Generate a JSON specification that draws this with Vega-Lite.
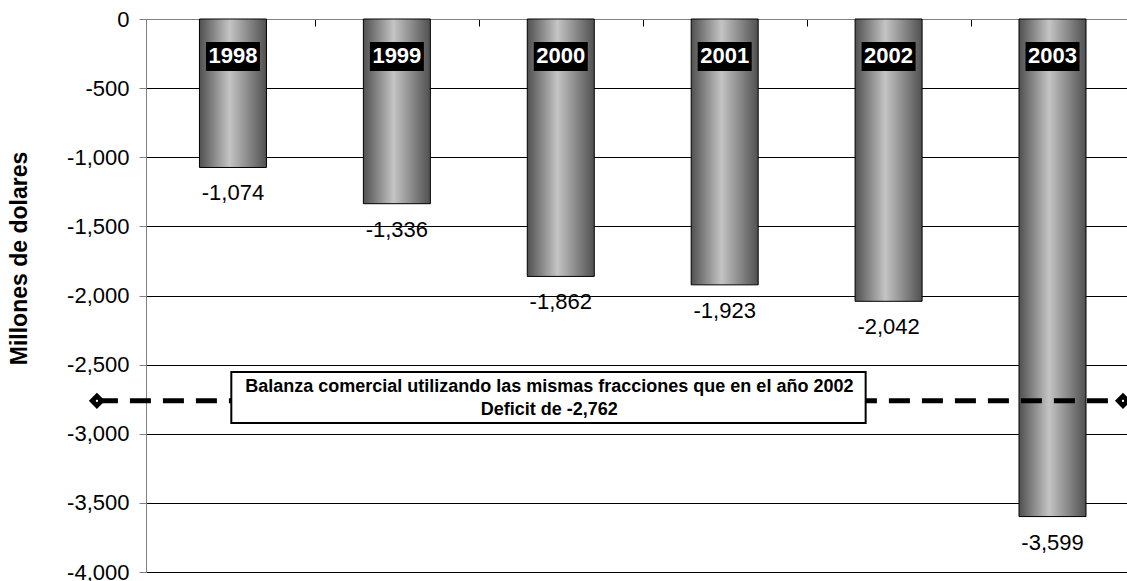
{
  "$schema": "https://vega.github.io/schema/vega-lite/v6.json",
  "width": 981,
  "height": 553,
  "autosize": {"type": "none"},
  "padding": {"left": 146, "top": 19, "right": 0, "bottom": 9},
  "background": "white",
  "config": {
    "font": "Liberation Sans",
    "view": {"stroke": null},
    "locale": {"number": {"decimal": ".", "thousands": ",", "grouping": [3], "currency": ["$", ""], "minus": "-"}}
  },
  "datasets": {
    "bars": [
      {"year": 1998, "value": -1074},
      {"year": 1999, "value": -1336},
      {"year": 2000, "value": -1862},
      {"year": 2001, "value": -1923},
      {"year": 2002, "value": -2042},
      {"year": 2003, "value": -3599}
    ],
    "ref": [
      {"year": 1997.17, "value": -2762},
      {"year": 2003.43, "value": -2762}
    ],
    "box": [
      {"year": 1997.99, "year2": 2001.86, "value": -2553, "value2": -2922}
    ],
    "boxtext": [
      {"year": 1999.93, "value": -2662, "label": "Balanza comercial utilizando las mismas fracciones que en el año 2002"},
      {"year": 1999.93, "value": -2828, "label": "Deficit de -2,762"}
    ]
  },
  "encoding": {
    "x": {
      "field": "year",
      "type": "quantitative",
      "scale": {"domain": [1997.5, 2003.424], "nice": false, "zero": false},
      "axis": {
        "orient": "top",
        "title": null,
        "values": [1998.5, 1999.5, 2000.5, 2001.5, 2002.5],
        "labels": false,
        "grid": false,
        "tickSize": -7,
        "tickColor": "#000000",
        "domainColor": "#808080",
        "domainWidth": 1
      }
    },
    "y": {
      "field": "value",
      "type": "quantitative",
      "scale": {"domain": [-4000, 0], "nice": false},
      "axis": {
        "title": "Millones de dolares",
        "titleFontSize": 23,
        "titleFontWeight": "bold",
        "titleColor": "#000000",
        "titlePadding": 35,
        "titleY": 239,
        "values": [0, -500, -1000, -1500, -2000, -2500, -3000, -3500, -4000],
        "format": ",.0f",
        "labelFontSize": 22,
        "labelColor": "#000000",
        "labelPadding": 10,
        "tickSize": 7,
        "tickColor": "#808080",
        "domainColor": "#808080",
        "gridColor": "#000000",
        "gridWidth": 1,
        "gridOpacity": 1
      }
    }
  },
  "layer": [
    {
      "data": {"name": "bars"},
      "mark": {
        "type": "bar",
        "size": 67,
        "stroke": "#000000",
        "strokeWidth": 1,
        "color": {
          "gradient": "linear",
          "x1": 0, "y1": 0, "x2": 1, "y2": 0,
          "stops": [
            {"offset": 0, "color": "#505050"},
            {"offset": 0.45, "color": "#c4c4c4"},
            {"offset": 1, "color": "#505050"}
          ]
        }
      }
    },
    {
      "data": {"name": "bars"},
      "mark": {"type": "bar", "size": 54, "color": "#000000"},
      "encoding": {
        "y": {"datum": -166},
        "y2": {"datum": -376}
      }
    },
    {
      "data": {"name": "bars"},
      "mark": {"type": "text", "color": "#ffffff", "fontSize": 22, "fontWeight": "bold", "baseline": "middle", "align": "center"},
      "encoding": {
        "y": {"datum": -271},
        "text": {"field": "year", "type": "nominal"}
      }
    },
    {
      "data": {"name": "bars"},
      "mark": {"type": "text", "color": "#000000", "fontSize": 22, "baseline": "middle", "align": "center", "dy": 26},
      "encoding": {
        "text": {"field": "value", "type": "quantitative", "format": ",.0f"}
      }
    },
    {
      "data": {"name": "ref"},
      "mark": {"type": "line", "color": "#000000", "strokeWidth": 5, "strokeDash": [21, 12], "clip": false}
    },
    {
      "data": {"name": "ref"},
      "mark": {"type": "point", "shape": "diamond", "size": 260, "filled": true, "color": "#000000", "opacity": 1, "clip": false}
    },
    {
      "data": {"name": "ref"},
      "mark": {"type": "point", "shape": "square", "size": 4, "filled": true, "color": "#ffffff", "opacity": 1, "clip": false}
    },
    {
      "data": {"name": "box"},
      "mark": {"type": "rect", "fill": "#ffffff", "stroke": "#000000", "strokeWidth": 2},
      "encoding": {
        "x2": {"field": "year2"},
        "y2": {"field": "value2"}
      }
    },
    {
      "data": {"name": "boxtext"},
      "mark": {"type": "text", "color": "#000000", "fontSize": 18, "fontWeight": "bold", "baseline": "middle", "align": "center"},
      "encoding": {
        "text": {"field": "label", "type": "nominal"}
      }
    }
  ]
}
